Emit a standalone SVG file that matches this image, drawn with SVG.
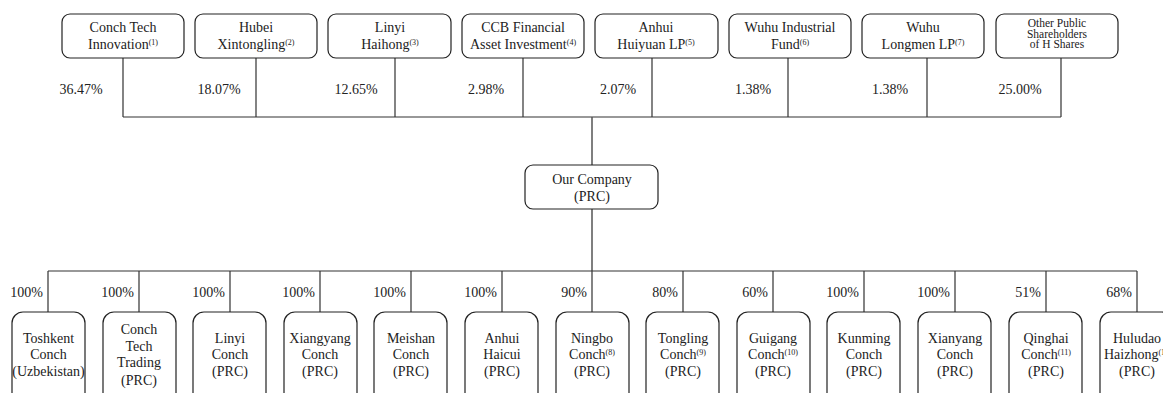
<svg xmlns="http://www.w3.org/2000/svg" width="1163" height="393" viewBox="0 0 1163 393">
<style>
text{font-family:"Liberation Serif","Times New Roman",serif;fill:#222;font-size:14px}
.c{text-anchor:middle}
.r{text-anchor:end}
.s{font-size:11.5px}
.box{fill:#fff;stroke:#222;stroke-width:1.2}
.ln{fill:none;stroke:#333;stroke-width:1.2}
.sup{font-size:8px}
</style>
<rect width="1163" height="393" fill="#fff"/>
<g id="connectors">
<path class="ln" d="M123 58V117M256 58V117M395 58V117M523 58V117M652 58V117M788 58V117M927 58V117M1061 58V117M123 117H1061"/>
<path class="ln" d="M592 117V165" style="stroke:#555;stroke-width:1.5"/>
<path class="ln" d="M592 209V271" style="stroke:#555;stroke-width:1.5"/>
<path class="ln" d="M48 271H1137M48 271V312M139 271V312M230 271V312M320 271V312M411 271V312M502 271V312M592 271V312M683 271V312M773 271V312M864 271V312M955 271V312M1046 271V312M1137 271V312"/>
</g>
<g id="pct-top">
<text class="c" x="81" y="94">36.47%</text>
<text class="c" x="219" y="94">18.07%</text>
<text class="c" x="356" y="94">12.65%</text>
<text class="c" x="486" y="94">2.98%</text>
<text class="c" x="618" y="94">2.07%</text>
<text class="c" x="753" y="94">1.38%</text>
<text class="c" x="890" y="94">1.38%</text>
<text class="c" x="1020" y="94">25.00%</text>
</g>
<g id="n-conch-tech-innovation"><rect class="box" x="62" y="14" width="122" height="44" rx="8"/><text class="c" x="123" y="32">Conch Tech</text><text class="c" x="123" y="49">Innovation<tspan class="sup" dy="-4">(1)</tspan></text></g>
<g id="n-hubei"><rect class="box" x="195" y="14" width="122" height="44" rx="8"/><text class="c" x="256" y="32">Hubei</text><text class="c" x="256" y="49">Xintongling<tspan class="sup" dy="-4">(2)</tspan></text></g>
<g id="n-linyi-haihong"><rect class="box" x="328" y="14" width="123" height="44" rx="8"/><text class="c" x="390" y="32">Linyi</text><text class="c" x="390" y="49">Haihong<tspan class="sup" dy="-4">(3)</tspan></text></g>
<g id="n-ccb"><rect class="box" x="462" y="14" width="122" height="44" rx="8"/><text class="c" x="523" y="32">CCB Financial</text><text class="c" x="523" y="49">Asset Investment<tspan class="sup" dy="-4">(4)</tspan></text></g>
<g id="n-anhui-huiyuan"><rect class="box" x="595" y="14" width="123" height="44" rx="8"/><text class="c" x="656" y="32">Anhui</text><text class="c" x="656" y="49">Huiyuan LP<tspan class="sup" dy="-4">(5)</tspan></text></g>
<g id="n-wuhu-industrial"><rect class="box" x="729" y="14" width="122" height="44" rx="8"/><text class="c" x="790" y="32">Wuhu Industrial</text><text class="c" x="790" y="49">Fund<tspan class="sup" dy="-4">(6)</tspan></text></g>
<g id="n-wuhu-longmen"><rect class="box" x="862" y="14" width="122" height="44" rx="8"/><text class="c" x="923" y="32">Wuhu</text><text class="c" x="923" y="49">Longmen LP<tspan class="sup" dy="-4">(7)</tspan></text></g>
<g id="n-other-public"><rect class="box" x="996" y="14" width="122" height="44" rx="8"/><text class="c s" x="1057" y="27">Other Public</text><text class="c s" x="1057" y="37.5">Shareholders</text><text class="c s" x="1057" y="48">of H Shares</text></g>
<g id="n-our-company"><rect class="box" x="525" y="165" width="133" height="44" rx="8"/><text class="c" x="592" y="184">Our Company</text><text class="c" x="592" y="201">(PRC)</text></g>
<g id="pct-bottom">
<text class="r" x="43" y="297">100%</text>
<text class="r" x="134" y="297">100%</text>
<text class="r" x="225" y="297">100%</text>
<text class="r" x="315" y="297">100%</text>
<text class="r" x="406" y="297">100%</text>
<text class="r" x="497" y="297">100%</text>
<text class="r" x="587" y="297">90%</text>
<text class="r" x="678" y="297">80%</text>
<text class="r" x="768" y="297">60%</text>
<text class="r" x="859" y="297">100%</text>
<text class="r" x="950" y="297">100%</text>
<text class="r" x="1041" y="297">51%</text>
<text class="r" x="1132" y="297">68%</text>
</g>
<g id="n-toshkent"><rect class="box" x="12" y="312" width="73" height="100" rx="11"/><text class="c" x="48.5" y="343">Toshkent</text><text class="c" x="48.5" y="359">Conch</text><text class="c" x="48.5" y="376">(Uzbekistan)</text></g>
<g id="n-conch-tech-trading"><rect class="box" x="103" y="312" width="73" height="100" rx="11"/><text class="c" x="139" y="334">Conch</text><text class="c" x="139" y="351">Tech</text><text class="c" x="139" y="367">Trading</text><text class="c" x="139" y="385">(PRC)</text></g>
<g id="n-linyi-conch"><rect class="box" x="193" y="312" width="73" height="100" rx="11"/><text class="c" x="230" y="343">Linyi</text><text class="c" x="230" y="359">Conch</text><text class="c" x="230" y="376">(PRC)</text></g>
<g id="n-xiangyang"><rect class="box" x="284" y="312" width="73" height="100" rx="11"/><text class="c" x="320" y="343">Xiangyang</text><text class="c" x="320" y="359">Conch</text><text class="c" x="320" y="376">(PRC)</text></g>
<g id="n-meishan"><rect class="box" x="374" y="312" width="73" height="100" rx="11"/><text class="c" x="411" y="343">Meishan</text><text class="c" x="411" y="359">Conch</text><text class="c" x="411" y="376">(PRC)</text></g>
<g id="n-anhui-haicui"><rect class="box" x="465" y="312" width="73" height="100" rx="11"/><text class="c" x="502" y="343">Anhui</text><text class="c" x="502" y="359">Haicui</text><text class="c" x="502" y="376">(PRC)</text></g>
<g id="n-ningbo"><rect class="box" x="556" y="312" width="73" height="100" rx="11"/><text class="c" x="592" y="343">Ningbo</text><text class="c" x="592" y="359">Conch<tspan class="sup" dy="-4">(8)</tspan></text><text class="c" x="592" y="376">(PRC)</text></g>
<g id="n-tongling"><rect class="box" x="646" y="312" width="73" height="100" rx="11"/><text class="c" x="683" y="343">Tongling</text><text class="c" x="683" y="359">Conch<tspan class="sup" dy="-4">(9)</tspan></text><text class="c" x="683" y="376">(PRC)</text></g>
<g id="n-guigang"><rect class="box" x="737" y="312" width="73" height="100" rx="11"/><text class="c" x="773" y="343">Guigang</text><text class="c" x="773" y="359">Conch<tspan class="sup" dy="-4">(10)</tspan></text><text class="c" x="773" y="376">(PRC)</text></g>
<g id="n-kunming"><rect class="box" x="827" y="312" width="73" height="100" rx="11"/><text class="c" x="864" y="343">Kunming</text><text class="c" x="864" y="359">Conch</text><text class="c" x="864" y="376">(PRC)</text></g>
<g id="n-xianyang"><rect class="box" x="918" y="312" width="73" height="100" rx="11"/><text class="c" x="955" y="343">Xianyang</text><text class="c" x="955" y="359">Conch</text><text class="c" x="955" y="376">(PRC)</text></g>
<g id="n-qinghai"><rect class="box" x="1009" y="312" width="73" height="100" rx="11"/><text class="c" x="1046" y="343">Qinghai</text><text class="c" x="1046" y="359">Conch<tspan class="sup" dy="-4">(11)</tspan></text><text class="c" x="1046" y="376">(PRC)</text></g>
<g id="n-huludao"><rect class="box" x="1100" y="312" width="73" height="100" rx="11"/><text class="c" x="1137" y="343">Huludao</text><text x="1104" y="359">Haizhong<tspan class="sup" dy="-4">(12)</tspan></text><text class="c" x="1137" y="376">(PRC)</text></g>
</svg>
